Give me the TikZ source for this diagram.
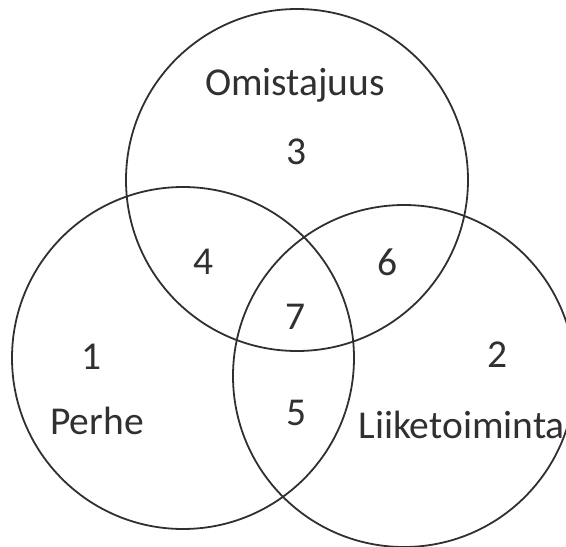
\documentclass[tikz,border=0pt]{standalone}
\usepackage{fontspec}
\setmainfont{Carlito}
\definecolor{ink}{HTML}{303030}
\begin{document}
\begin{tikzpicture}[x=1pt,y=-1pt,
  venn/.style={circle,draw=ink,line width=1.8pt,minimum size=342pt,inner sep=0pt},
  lbl/.style={text=ink,font=\fontsize{39.5}{42}\selectfont,inner sep=0pt}]
\useasboundingbox (0,0) rectangle (566,547);
\clip (0,0) rectangle (566,547);
\node[venn] (own) at (297,180) {};
\node[venn] (fam) at (183,358) {};
\node[venn] (bus) at (404,376) {};
\node[lbl,anchor=base] (tOwn) at (295,95) {Omistajuus};
\node[lbl] (n3) at (297,152) {3};
\node[lbl] (n4) at (204,262) {4};
\node[lbl] (n6) at (388,262) {6};
\node[lbl] (n7) at (296,317) {7};
\node[lbl] (n1) at (92,357) {1};
\node[lbl] (n2) at (498,355) {2};
\node[lbl] (n5) at (297,413) {5};
\node[lbl,anchor=base] (tFam) at (97,434) {Perhe};
\node[lbl,anchor=base east] (tBus) at (565,438) {Liiketoiminta};
\end{tikzpicture}
\end{document}
